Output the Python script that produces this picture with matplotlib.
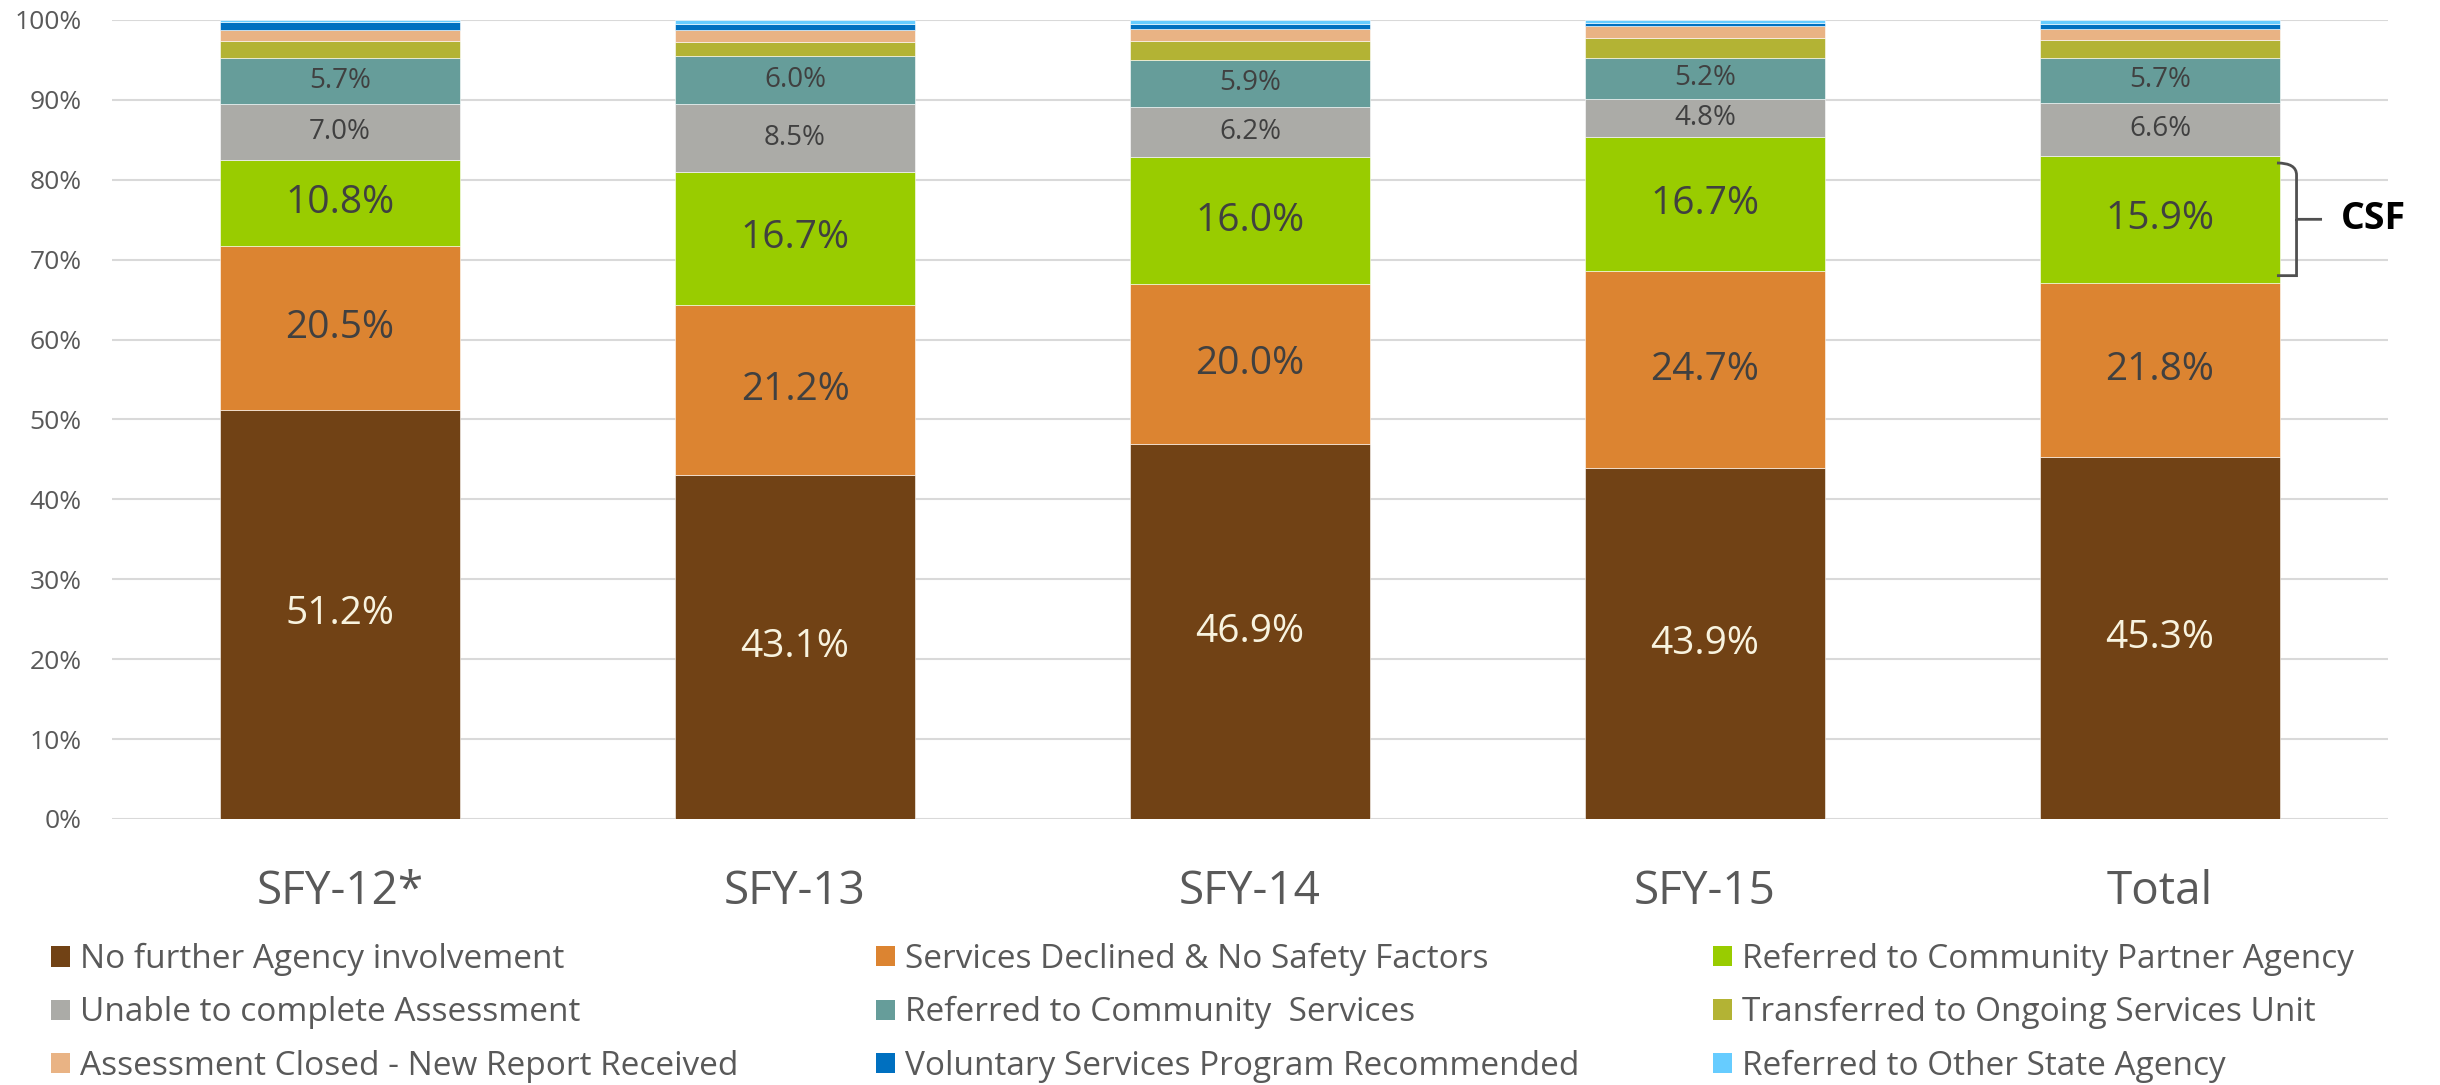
import matplotlib
matplotlib.use("Agg")
import matplotlib.pyplot as plt
from matplotlib.patches import Patch, PathPatch
from matplotlib.path import Path
import numpy as np

plt.rcParams['font.family'] = ['Open Sans', 'DejaVu Sans']

# categories and series (percent of assessments)
categories = ['SFY-12*', 'SFY-13', 'SFY-14', 'SFY-15', 'Total']
series_names = [
    'No further Agency involvement',
    'Services Declined & No Safety Factors',
    'Referred to Community Partner Agency',
    'Unable to complete Assessment',
    'Referred to Community  Services',
    'Transferred to Ongoing Services Unit',
    'Assessment Closed - New Report Received',
    'Voluntary Services Program Recommended',
    'Referred to Other State Agency',
]
no_further = [51.2, 43.1, 46.9, 43.9, 45.3]
declined = [20.5, 21.2, 20.0, 24.7, 21.8]
partner = [10.8, 16.7, 16.0, 16.7, 15.9]
unable = [7.0, 8.5, 6.2, 4.8, 6.6]
community = [5.7, 6.0, 5.9, 5.2, 5.7]
transferred = [2.2, 1.7, 2.4, 2.5, 2.2]
closed_new = [1.3, 1.6, 1.5, 1.4, 1.4]
voluntary = [1.0, 0.7, 0.6, 0.4, 0.6]
other_state = [0.3, 0.5, 0.5, 0.4, 0.5]

colors = ['#714215', '#DC8431', '#99CC00', '#ABABA7', '#669D9A',
          '#B3B334', '#E9B384', '#0070C0', '#66CCFF']

all_series = [no_further, declined, partner, unable, community,
              transferred, closed_new, voluntary, other_state]

fig = plt.figure(figsize=(24.4, 10.85), dpi=100)
ax = fig.add_axes([0.0461, 0.2452, 0.9324, 0.7364])

x = np.arange(len(categories))
bottom = np.zeros(len(categories))
handles = []
for i, (vals, col) in enumerate(zip(all_series, colors)):
    vals = np.array(vals)
    ax.bar(x, vals, width=0.527, bottom=bottom, color=col,
           edgecolor='white', linewidth=0.4, zorder=3)
    handles.append(Patch(facecolor=col, label=series_names[i]))
    if i < 5:
        if i == 0:
            tc, fs = '#F8F3DF', 28
        elif i < 3:
            tc, fs = '#404040', 28
        else:
            tc, fs = '#404040', 20
        for xi, b, v in zip(x, bottom, vals):
            ax.text(xi, b + v / 2, f'{v:.1f}%', ha='center', va='center',
                    color=tc, fontsize=fs, zorder=4)
    bottom += vals

ax.set_xlim(-0.5, 4.5)
ax.set_ylim(0, 100)
ax.set_yticks(np.arange(0, 101, 10))
ax.set_yticklabels([f'{v}%' for v in range(0, 101, 10)])
ax.set_xticks(x)
ax.set_xticklabels(categories)
ax.tick_params(axis='y', length=0, pad=22, labelsize=19, labelcolor='#595959')
ax.tick_params(axis='x', length=0, pad=36, labelsize=33, labelcolor='#595959')
ax.grid(axis='y', color='#D9D9D9', linewidth=1.5, zorder=0)
for s in ax.spines.values():
    s.set_visible(False)

# CSF bracket on the Total bar
x0, x1, x2 = 4.257, 4.30, 4.356
yt, ym, yb = 82.1, 75.05, 68.0
verts = [(x0, yt), (x1, yt), (x1, yt - 1.5), (x1, yt - 2.5),
         (x1, ym + 1.0), (x1, ym), (x2, ym),
         (x1, ym), (x1, ym - 1.0), (x1, yb + 2.5),
         (x1, yb + 1.5), (x1, yb), (x0, yb)]
codes = [Path.MOVETO, Path.CURVE3, Path.CURVE3, Path.LINETO,
         Path.CURVE3, Path.CURVE3, Path.LINETO,
         Path.MOVETO, Path.CURVE3, Path.LINETO,
         Path.CURVE3, Path.CURVE3, Path.LINETO]
ax.add_patch(PathPatch(Path(verts, codes), facecolor='none', edgecolor='#505050',
                       linewidth=2, clip_on=False, zorder=5))
ax.text(4.398, ym, 'CSF', ha='left', va='center', fontsize=27,
        fontweight='bold', color='black', clip_on=False)

# legend: three columns placed separately, row-wise order
col_x = [0.0209, 0.359, 0.702]
for c in range(3):
    idx = [c, c + 3, c + 6]
    leg = fig.legend([handles[k] for k in idx], [series_names[k] for k in idx],
                     loc='lower left', bbox_to_anchor=(col_x[c], 0.002),
                     frameon=False, fontsize=24, labelcolor='#595959',
                     handlelength=0.56, handleheight=0.56, handletextpad=0.3,
                     labelspacing=0.61, borderpad=0, borderaxespad=0)

fig.savefig('out.png', dpi=100)
